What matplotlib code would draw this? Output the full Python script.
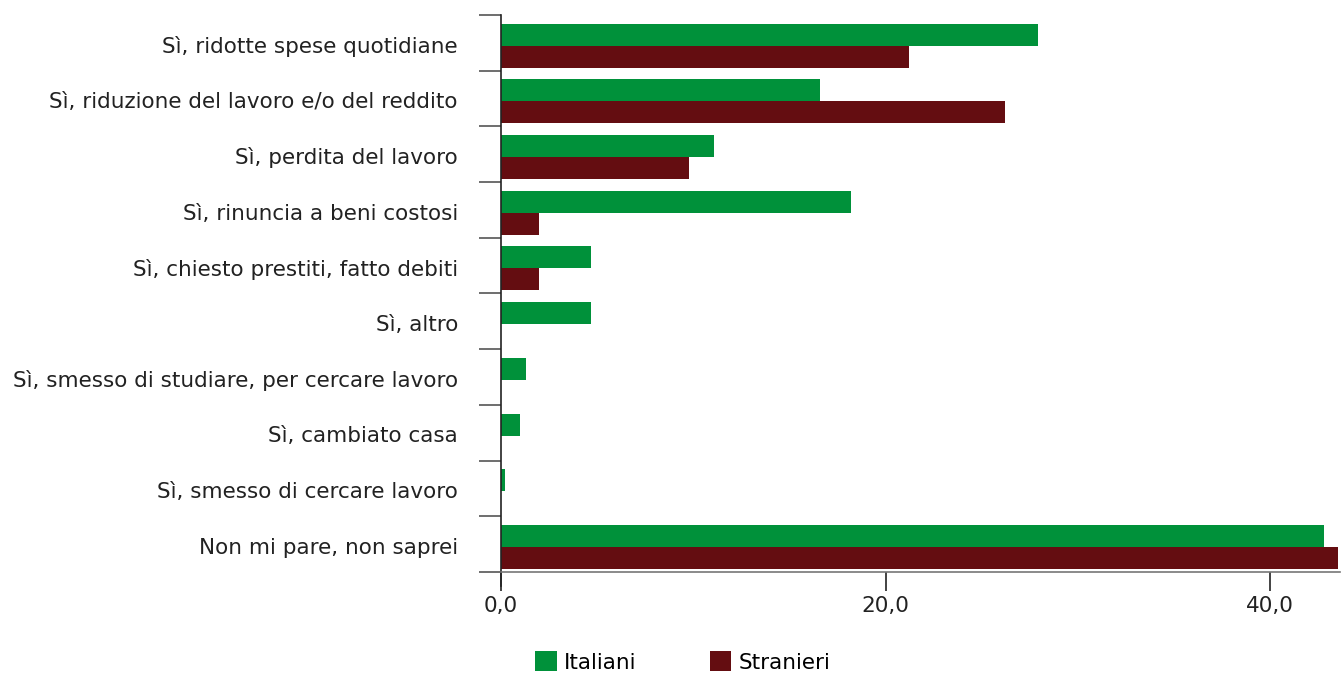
import matplotlib
matplotlib.use("Agg")
import matplotlib.pyplot as plt
import numpy as np

categories = [
    "Sì, ridotte spese quotidiane",
    "Sì, riduzione del lavoro e/o del reddito",
    "Sì, perdita del lavoro",
    "Sì, rinuncia a beni costosi",
    "Sì, chiesto prestiti, fatto debiti",
    "Sì, altro",
    "Sì, smesso di studiare, per cercare lavoro",
    "Sì, cambiato casa",
    "Sì, smesso di cercare lavoro",
    "Non mi pare, non saprei",
]
italiani = [27.9, 16.6, 11.1, 18.2, 4.7, 4.7, 1.3, 1.0, 0.2, 42.8]
stranieri = [21.2, 26.2, 9.8, 2.0, 2.0, 0.0, 0.0, 0.0, 0.0, 43.5]
x_ticks = [0, 20, 40]
x_tick_labels = ["0,0", "20,0", "40,0"]
series_names = ["Italiani", "Stranieri"]

GREEN = "#00913A"
RED = "#640D11"
FS = 15.5

plt.rcParams["font.family"] = ["DejaVu Sans"]

fig = plt.figure(figsize=(13.43, 6.75), dpi=100)
ax = fig.add_axes([501 / 1343, 103 / 675, 839 / 1343, 557 / 675])

y = np.arange(len(categories))
h = 0.395
shift = 0.05
ax.barh(y + shift - h / 2, italiani, height=h, color=GREEN, label=series_names[0])
ax.barh(y + shift + h / 2, stranieri, height=h, color=RED, label=series_names[1])

ax.set_ylim(len(categories) - 0.5, -0.5)
ax.set_xlim(0, 43.63)

# category labels at centres, tick marks at category boundaries
ax.set_yticks(y + 0.03)
ax.set_yticklabels(categories, fontsize=FS, color="#222222")
ax.tick_params(axis="y", which="major", length=0, pad=31)
ax.set_yticks(np.arange(-0.5, len(categories) + 0.5, 1), minor=True)
ax.tick_params(axis="y", which="minor", length=16, width=1.2, color="#555555")

ax.set_xticks(x_ticks)
ax.set_xticklabels(x_tick_labels, fontsize=FS, color="#222222")
ax.tick_params(axis="x", length=14, width=1.2, color="#222222", pad=3)

for s in ["top", "right"]:
    ax.spines[s].set_visible(False)
ax.spines["left"].set_color("#222222")
ax.spines["left"].set_linewidth(1.2)
ax.spines["left"].set_bounds(-0.5, len(categories) - 0.5 + 0.25)
ax.spines["bottom"].set_color("#777777")
ax.spines["bottom"].set_linewidth(1.2)

fig.legend(
    loc="center",
    bbox_to_anchor=(683 / 1343, 1 - 662 / 675),
    ncol=2,
    frameon=False,
    fontsize=FS,
    handlelength=1.0,
    handleheight=1.0,
    handletextpad=0.35,
    columnspacing=3.4,
)

fig.savefig("out.png", dpi=100)
